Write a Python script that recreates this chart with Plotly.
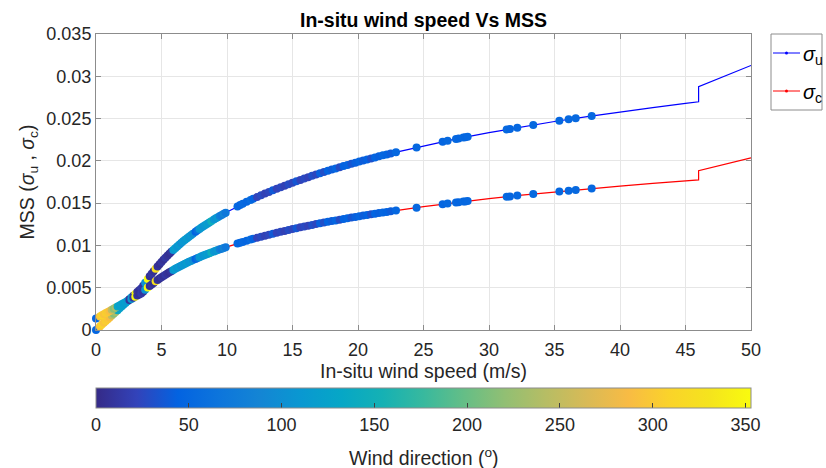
import plotly.graph_objects as go

# ---- Model curves (Katzberg-type MSS vs wind speed) ----
model_speed = [0, 3.49, 4, 4.5, 5, 6, 7, 8, 9, 10, 12, 14, 16, 18, 20, 22.5, 25, 27.5,
               30, 32.5, 35, 37.5, 40, 42.5, 45, 46, 46, 48, 50]
model_u = [0.0, 0.00496, 0.00614, 0.00714, 0.00804, 0.00960, 0.01091, 0.01205, 0.01306,
           0.01396, 0.01551, 0.01683, 0.01797, 0.01897, 0.01987, 0.02088, 0.02178, 0.02259,
           0.02333, 0.02401, 0.02465, 0.02523, 0.02579, 0.02630, 0.02679, 0.02698, 0.02878,
           0.03003, 0.03128]
model_c = [0.00135, 0.00437, 0.00508, 0.00569, 0.00624, 0.00718, 0.00798, 0.00867, 0.00928,
           0.00983, 0.01078, 0.01157, 0.01227, 0.01288, 0.01342, 0.01403, 0.01458, 0.01507,
           0.01553, 0.01594, 0.01632, 0.01668, 0.01702, 0.01733, 0.01763, 0.01774, 0.01884,
           0.01960, 0.02036]

# ---- In-situ samples: wind speed, wind direction, MSS up-wind / cross-wind ----
wind_speed = [
    0.0, 0.3, 0.45, 0.6, 0.75, 0.9, 1.05, 1.2, 1.35, 1.5, 1.65, 1.8, 1.95, 2.1, 2.25,
    2.4, 2.55, 2.7, 2.85, 3.0, 3.15, 3.3, 3.45,
    3.6, 3.75, 3.95, 4.1, 4.25, 4.4, 4.55, 4.7, 4.85, 5.0, 5.15, 5.3, 5.45, 5.6, 5.75,
    5.9, 6.05, 6.2, 6.35, 6.5, 6.65, 6.8, 6.95, 7.1, 7.25, 7.4, 7.6, 7.75, 7.9, 8.05, 8.2,
    8.35, 8.5, 8.65, 8.8, 9.0, 9.15, 9.3, 9.45, 9.6, 9.75, 9.9,
    10.8, 11.0, 11.2, 11.5, 11.8, 12.0, 12.3, 12.6, 12.9, 13.2, 13.5, 13.8, 14.1, 14.4,
    14.7, 15.0, 15.3, 15.6, 15.9, 16.2, 16.5, 16.8, 17.1, 17.4, 17.7, 18.0, 18.3, 18.6,
    18.9, 19.2, 19.5, 19.8, 20.1, 20.4, 20.7, 21.0, 21.3, 21.6, 21.9, 22.2, 22.5, 22.9,
    24.47, 26.46, 26.84, 27.48, 27.68, 28.04, 28.19, 28.37, 31.35, 31.6, 32.16, 33.38,
    35.37, 36.08, 36.62, 37.84]

wind_dir = [
    48, 298, 310, 295, 303, 300, 290, 250, 215, 235, 135, 120, 125, 115, 120,
    110, 8, 118, 12, 350, 10, 6, 14,
    10, 105, 352, 6, 10, 5, 325, 8, 4, 10, 6, 12, 8, 5, 10,
    110, 120, 105, 115, 100, 112, 108, 118, 104, 110, 98, 45, 60, 108, 115, 105,
    110, 118, 112, 145, 110, 104, 112, 80, 72, 85, 70,
    50, 46, 52, 48, 55, 44, 22, 26, 20, 24, 38, 22, 25, 20,
    28, 24, 36, 22, 26, 21, 30, 25, 42, 30, 45, 40, 48, 28,
    44, 46, 35, 42, 48, 40, 44, 32, 46, 42, 48, 45, 40, 50,
    50, 48, 52, 50, 47, 51, 49, 50, 52, 48, 50, 51,
    49, 50, 52, 50]

mss_u = [
    0.0, 0.000427, 0.00064, 0.000853, 0.00107, 0.00128, 0.00149, 0.00171, 0.00192,
    0.00213, 0.00235, 0.00256, 0.00277, 0.00299, 0.0032, 0.00341, 0.00363, 0.00384, 0.00405,
    0.00427, 0.00448, 0.00469, 0.00491,
    0.00524, 0.00559, 0.00603, 0.00635, 0.00666, 0.00695, 0.00724, 0.00752, 0.00778, 0.00804,
    0.00830, 0.00854, 0.00878, 0.00901, 0.00924,
    0.00946, 0.00967, 0.00988, 0.01008, 0.01028, 0.01048, 0.01067, 0.01085, 0.01104, 0.01121,
    0.01139, 0.01162, 0.01178, 0.01195, 0.01211, 0.01226, 0.01242, 0.01257, 0.01272, 0.01287,
    0.01306, 0.01320, 0.01334, 0.01348, 0.01361, 0.01374, 0.01387,
    0.01461, 0.01477, 0.01492, 0.01515, 0.01537, 0.01551, 0.01572, 0.01593, 0.01613, 0.01633,
    0.01652, 0.01671, 0.01689, 0.01707, 0.01724, 0.01742, 0.01759, 0.01775, 0.01791, 0.01807,
    0.01823, 0.01838, 0.01854, 0.01868, 0.01883, 0.01897, 0.01911, 0.01925, 0.01939, 0.01952,
    0.01966, 0.01979, 0.01991, 0.02004, 0.02017, 0.02029, 0.02041, 0.02053, 0.02065, 0.02076,
    0.02088, 0.02103,
    0.02159, 0.02226, 0.02238, 0.02258, 0.02264, 0.02275, 0.02280, 0.02285, 0.02371, 0.02377,
    0.02392, 0.02424, 0.02474, 0.02491, 0.02503, 0.02531]

mss_c = [
    0.00135, 0.00161, 0.00174, 0.00187, 0.0020, 0.00213, 0.00226, 0.00239, 0.00252,
    0.00265, 0.00278, 0.00291, 0.00303, 0.00316, 0.00329, 0.00342, 0.00355, 0.00368, 0.00381,
    0.00394, 0.00407, 0.00420, 0.00433,
    0.00453, 0.00475, 0.00502, 0.00521, 0.00539, 0.00557, 0.00575, 0.00592, 0.00608, 0.00624,
    0.00639, 0.00654, 0.00668, 0.00682, 0.00696,
    0.00710, 0.00723, 0.00735, 0.00748, 0.00760, 0.00772, 0.00783, 0.00794, 0.00806, 0.00816,
    0.00827, 0.00841, 0.00851, 0.00861, 0.00871, 0.00880, 0.00890, 0.00899, 0.00908, 0.00917,
    0.00928, 0.00937, 0.00945, 0.00954, 0.00962, 0.00970, 0.00978,
    0.01023, 0.01032, 0.01042, 0.01055, 0.01069, 0.01078, 0.01090, 0.01103, 0.01115, 0.01127,
    0.01139, 0.01150, 0.01161, 0.01172, 0.01183, 0.01193, 0.01204, 0.01214, 0.01223, 0.01233,
    0.01243, 0.01252, 0.01261, 0.01270, 0.01279, 0.01288, 0.01296, 0.01305, 0.01313, 0.01321,
    0.01329, 0.01337, 0.01345, 0.01353, 0.01360, 0.01368, 0.01375, 0.01382, 0.01389, 0.01396,
    0.01403, 0.01413,
    0.01447, 0.01487, 0.01495, 0.01507, 0.01511, 0.01518, 0.01520, 0.01524, 0.01575, 0.01579,
    0.01589, 0.01608, 0.01638, 0.01648, 0.01656, 0.01673]

x_ticks = [0, 5, 10, 15, 20, 25, 30, 35, 40, 45, 50]
y_ticks = [0, 0.005, 0.01, 0.015, 0.02, 0.025, 0.03, 0.035]
dir_ticks = [0, 50, 100, 150, 200, 250, 300, 350]
legend_labels = ["<i>σ</i><sub>u</sub>", "<i>σ</i><sub>c</sub>"]
legend_colors = ["#0000ff", "#ff0000"]

# parula colour map
parula = ["#352a87", "#3243ba", "#0363e1", "#0d75dc", "#1485d4", "#0998d1", "#06a7c6",
          "#15b1b4", "#38b99e", "#65be86", "#92bf73", "#b7bd64", "#d9ba56", "#f8bb44",
          "#fad32a", "#f5e41d", "#f9fb0e"]
colorscale = [[i / (len(parula) - 1), c] for i, c in enumerate(parula)]

FONT = "Liberation Sans, Arial, Helvetica, sans-serif"
TXT = "#262626"
TICK_SIZE = 18
LABEL_SIZE = 19.5
DIR_MAX = 353

# plot-area geometry (pixels) used to place the legend box in paper units
W, H = 826, 468
ML, MR, MT, MB = 96, 75, 34, 138
PW, PH = W - ML - MR, H - MT - MB


def px_x(px):
    return (px - ML) / PW


def px_y(py):
    return (H - MB - py) / PH


fig = go.Figure()

fig.add_trace(go.Scatter(x=model_speed, y=model_u, mode="lines",
                         line=dict(color=legend_colors[0], width=1.2), showlegend=False,
                         hoverinfo="skip"))
fig.add_trace(go.Scatter(x=model_speed, y=model_c, mode="lines",
                         line=dict(color=legend_colors[1], width=1.2), showlegend=False,
                         hoverinfo="skip"))

marker_common = dict(size=8, color=wind_dir, colorscale=colorscale, cmin=0, cmax=DIR_MAX,
                     line=dict(width=0))

fig.add_trace(go.Scatter(x=wind_speed, y=mss_u, mode="markers", showlegend=False,
                         cliponaxis=False,
                         marker=dict(**marker_common, showscale=True,
                                     colorbar=dict(
                                         orientation="h", x=0.5, xanchor="center",
                                         y=px_y(388), yanchor="top", len=1, lenmode="fraction",
                                         thickness=20, xpad=0, ypad=0,
                                         outlinecolor="#8c8c8c", outlinewidth=1,
                                         tickvals=dir_ticks, ticks="inside", ticklen=5,
                                         tickcolor="#404040",
                                         tickfont=dict(family=FONT, size=TICK_SIZE, color=TXT)))))
fig.add_trace(go.Scatter(x=wind_speed, y=mss_c, mode="markers", showlegend=False,
                         cliponaxis=False,
                         marker=dict(**marker_common, showscale=False)))

axis_common = dict(showline=True, linecolor="#8c8c8c", linewidth=1, mirror="ticks",
                   ticks="inside", ticklen=5, tickcolor="#8c8c8c",
                   showgrid=True, gridcolor="#e6e6e6", gridwidth=1, zeroline=False,
                   tickfont=dict(family=FONT, size=TICK_SIZE, color=TXT))

# legend box drawn in paper coordinates to the right of the axes
shapes = [dict(type="rect", xref="paper", yref="paper",
               x0=px_x(771), x1=px_x(822), y0=px_y(110), y1=px_y(34),
               line=dict(color="#8c8c8c", width=1), fillcolor="white", layer="above")]
annotations = []
for i, (lab, col) in enumerate(zip(legend_labels, legend_colors)):
    yy = 53 + 38 * i
    shapes.append(dict(type="line", xref="paper", yref="paper",
                       x0=px_x(773), x1=px_x(800), y0=px_y(yy), y1=px_y(yy),
                       line=dict(color=col, width=1), layer="above"))
    shapes.append(dict(type="circle", xref="paper", yref="paper",
                       x0=px_x(785), x1=px_x(788), y0=px_y(yy + 1.5), y1=px_y(yy - 1.5),
                       line=dict(color=col, width=0), fillcolor=col, layer="above"))
    annotations.append(dict(text=lab, x=px_x(801), y=px_y(yy + 2), xref="paper", yref="paper",
                            xanchor="left", yanchor="middle", showarrow=False,
                            font=dict(family=FONT, size=20, color="#000000")))

annotations.append(dict(text="Wind direction (<sup>o</sup>)", x=0.5, xref="paper",
                        y=px_y(457), yref="paper", xanchor="center", yanchor="middle",
                        showarrow=False, font=dict(family=FONT, size=LABEL_SIZE, color=TXT)))

fig.update_layout(
    width=W, height=H,
    margin=dict(l=ML, r=MR, t=MT, b=MB, autoexpand=False),
    paper_bgcolor="white", plot_bgcolor="white",
    showlegend=False,
    title=dict(text="<b>In-situ wind speed Vs MSS</b>", x=(ML + PW / 2) / W, xanchor="center",
               y=1 - 20 / H, yanchor="middle", yref="container",
               font=dict(family=FONT, size=LABEL_SIZE, color="#000000")),
    xaxis=dict(range=[0, 50], tickvals=x_ticks, ticklabelstandoff=3, **axis_common,
               title=dict(text="In-situ wind speed (m/s)", standoff=2,
                          font=dict(family=FONT, size=LABEL_SIZE, color=TXT))),
    yaxis=dict(range=[0, 0.035], tickvals=y_ticks, **axis_common,
               title=dict(text="MSS (<i>σ</i><sub>u</sub> , <i>σ</i><sub>c</sub>)", standoff=6,
                          font=dict(family=FONT, size=LABEL_SIZE, color=TXT))),
    shapes=shapes,
    annotations=annotations,
)

fig.write_html("out.html")
